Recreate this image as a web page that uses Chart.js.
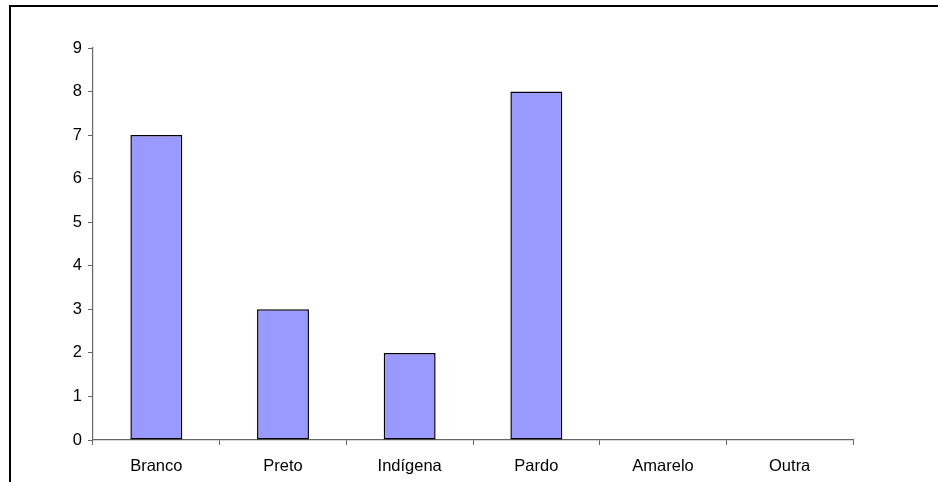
<!DOCTYPE html>
<html>
<head>
<meta charset="utf-8">
<script src="https://cdn.jsdelivr.net/npm/chart.js@4/dist/chart.umd.min.js"></script>
<style>
  html, body { margin: 0; padding: 0; background: #fff; }
  #wrap { width: 938px; height: 482px; }
</style>
</head>
<body>
<div id="wrap"><canvas id="c" width="938" height="482"></canvas></div>
<script>
const categories = ['Branco', 'Preto', 'Indígena', 'Pardo', 'Amarelo', 'Outra'];
const counts = [7, 3, 2, 8, 0, 0];
const yTicks = [0, 1, 2, 3, 4, 5, 6, 7, 8, 9];

// Frame around the whole figure (left and top edges)
const framePlugin = {
  id: 'frame',
  afterDraw(chart) {
    const ctx = chart.ctx;
    ctx.save();
    ctx.strokeStyle = '#000';
    ctx.lineWidth = 2;
    ctx.beginPath();
    ctx.moveTo(10, 482);
    ctx.lineTo(10, 6);
    ctx.lineTo(938, 6);
    ctx.stroke();
    ctx.restore();
  }
};

const labelFont = { family: 'Liberation Sans', size: 16.5 };

new Chart(document.getElementById('c'), {
  type: 'bar',
  data: {
    labels: categories,
    datasets: [{
      data: counts,
      backgroundColor: '#9999FF',
      borderColor: '#000',
      borderWidth: 1.5,
      borderSkipped: false,
      barPercentage: 0.82,
      categoryPercentage: 0.5
    }]
  },
  options: {
    responsive: false,
    animation: false,
    layout: { padding: { top: 48, right: 85, left: 0, bottom: 0 } },
    plugins: { legend: { display: false }, tooltip: { enabled: false } },
    scales: {
      x: {
        offset: true,
        grid: { offset: true, drawOnChartArea: false, tickLength: 5, color: '#666', tickWidth: 1 },
        border: { color: '#666', width: 1.2 },
        ticks: { color: '#000', font: labelFont, padding: 12, maxRotation: 0 },
        afterFit(scale) { scale.height = 42; }
      },
      y: {
        min: 0, max: 9,
        afterBuildTicks(scale) { scale.ticks = yTicks.map(v => ({ value: v })); },
        grid: { drawOnChartArea: false, tickLength: 5, color: '#666', tickWidth: 1 },
        border: { color: '#666', width: 1.2 },
        ticks: { color: '#000', font: labelFont, padding: 6 },
        afterFit(scale) { scale.width = 93; }
      }
    }
  },
  plugins: [framePlugin]
});
</script>
</body>
</html>
